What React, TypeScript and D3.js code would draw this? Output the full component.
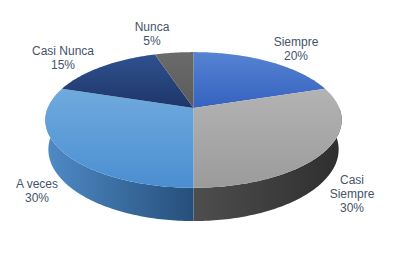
import React from 'react';
import * as d3 from 'd3';

// chart data
const categories = ['Siempre', 'Casi Siempre', 'A veces', 'Casi Nunca', 'Nunca'];
const values = [20, 30, 30, 15, 5];
const labelLines = [['Siempre', '20%'], ['Casi', 'Siempre', '30%'], ['A veces', '30%'], ['Casi Nunca', '15%'], ['Nunca', '5%']];
const topColors = [['#5683d3', '#3562bf'], ['#b3b3b3', '#9b9b9b'], ['#70aade', '#4a8ed1'], ['#30518f', '#1d3669'], ['#6b6b6b', '#5a5a5a']];
const sideColors = [['#3562bf', '#2a4f9a'], ['#4e4e4e', '#2e2e2e'], ['#4f8bc6', '#264f7b'], ['#1d3669', '#152a52'], ['#555', '#444']];

const width = 393;
const height = 260;

// simple perspective camera for the tilted disc
const cx = 193.5;
const cy = 108;
const tilt = (26.8 * Math.PI) / 180;
const dist = 5.06;
const focal = 738;
const thick = 0.228;

const project = (a: number, h: number): [number, number] => {
  const x = Math.sin(a);
  const z = Math.cos(a);
  const v = h * Math.cos(tilt) + z * Math.sin(tilt);
  const depth = dist + z * Math.cos(tilt) - h * Math.sin(tilt);
  return [cx + (focal * x) / depth, cy - (focal * v) / depth];
};

const arcPoints = (a0: number, a1: number, h: number) => {
  const n = Math.max(2, Math.ceil(((a1 - a0) * 180) / Math.PI));
  return d3.range(n + 1).map((i) => project(a0 + ((a1 - a0) * i) / n, h));
};

const line = d3.line();

const App = () => {
  const pie = d3.pie<number>().sort(null).startAngle(0).endAngle(2 * Math.PI);
  const slices = pie(values);

  return (
    <svg width={width} height={height} style={{ position: 'fixed', left: 0, top: 0, background: '#fff' }}>
      <defs>
        {slices.map((s, i) => (
          <React.Fragment key={i}>
            <linearGradient id={`top${i}`} x1="0" y1="0" x2="0" y2="1">
              <stop offset="0%" stopColor={topColors[i][0]} />
              <stop offset="100%" stopColor={topColors[i][1]} />
            </linearGradient>
            <linearGradient id={`side${i}`} x1={i === 1 ? '0' : '0'} y1="0" x2="1" y2="0">
              <stop offset="0%" stopColor={sideColors[i][0]} />
              <stop offset="100%" stopColor={sideColors[i][1]} />
            </linearGradient>
          </React.Fragment>
        ))}
      </defs>

      {/* visible side walls (front half) */}
      {slices.map((s, i) => {
        const a0 = Math.max(s.startAngle, Math.PI / 2);
        const a1 = Math.min(s.endAngle, (3 * Math.PI) / 2);
        if (a1 <= a0) return null;
        const pts = [...arcPoints(a0, a1, 0), ...arcPoints(a0, a1, -thick).reverse()];
        return <path key={`s${i}`} d={line(pts) + 'Z'} fill={`url(#side${i})`} />;
      })}

      {/* top faces */}
      {slices.map((s, i) => {
        const pts: [number, number][] = [[cx, cy], ...arcPoints(s.startAngle, s.endAngle, 0)];
        return <path key={`t${i}`} d={line(pts) + 'Z'} fill={`url(#top${i})`} />;
      })}

      {/* labels */}
      <g fontFamily="Liberation Sans, Arial, sans-serif" fontSize={12} fill="#44546A" textAnchor="middle">
        {categories.map((c, i) => {
          const pos = [
            [296, 46],
            [352, 184],
            [37, 188],
            [63, 55],
            [152, 31],
          ][i];
          return (
            <text key={c} x={pos[0]} y={pos[1]}>
              {labelLines[i].map((t, j) => (
                <tspan key={j} x={pos[0]} dy={j === 0 ? 0 : 14}>
                  {t}
                </tspan>
              ))}
            </text>
          );
        })}
      </g>
    </svg>
  );
};

export default App;
